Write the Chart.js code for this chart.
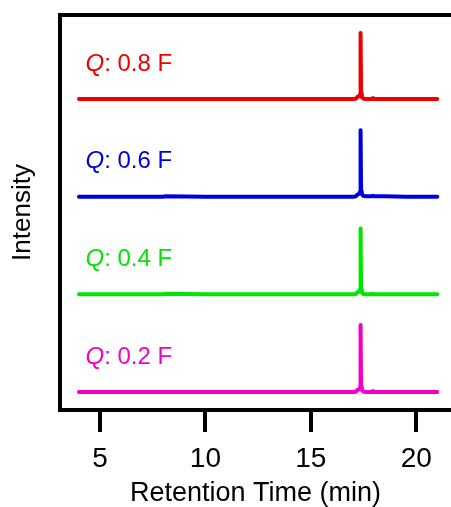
<!DOCTYPE html>
<html>
<head>
<meta charset="utf-8">
<script src="https://cdn.jsdelivr.net/npm/chart.js@4.4.1/dist/chart.umd.min.js"></script>
<style>
  html, body { margin: 0; padding: 0; background: #fff; overflow: hidden; }
  #wrap { width: 451px; height: 507px; }
</style>
</head>
<body>
<div id="wrap"><canvas id="myChart" width="451" height="507"></canvas></div>
<script>
// retention time (min) shared by all traces
var retentionTime = [4.0, 6.0, 8.0, 8.1, 10.0, 12.0, 14.0, 16.0, 17.05, 17.15, 17.2, 17.25, 17.3, 17.335, 17.36, 17.385, 17.42, 17.48, 17.6, 17.9, 17.95, 18.0, 18.5, 19.5, 21.0];

// intensities (normalised), one array per Q
var intensityQ08 = [0, 0, 0, 0, 0, 0, 0, 0, 0, 0.005, 0.02, 0.025, 0.03, 0.05, 0.676, 0.05, 0.02, 0.005, 0, 0, 0.01, 0, 0, 0, 0];
var intensityQ06 = [0, 0, 0, 0.005, 0, 0, 0, 0, 0, 0.005, 0.02, 0.025, 0.03, 0.05, 0.68, 0.05, 0.025, 0.01, 0.005, 0.005, 0.01, 0.005, 0.005, 0, 0];
var intensityQ04 = [0, 0, 0, 0.005, 0, 0, 0, 0, 0, 0.005, 0.02, 0.025, 0.03, 0.05, 0.675, 0.05, 0.02, 0.005, 0, 0, 0.005, 0, 0, 0, 0];
var intensityQ02 = [0, 0, 0, 0, 0, 0, 0, 0, 0, 0.005, 0.02, 0.025, 0.03, 0.05, 0.686, 0.05, 0.02, 0.005, 0, 0, 0.01, 0, 0, 0, 0];

var seriesLabels = ['0.8 F', '0.6 F', '0.4 F', '0.2 F'];
var seriesValues = [intensityQ08, intensityQ06, intensityQ04, intensityQ02];
var seriesOffsets = [3, 2, 1, 0];
var seriesColors = ['#ee0000', '#0000e0', '#00e600', '#f000c8'];
var xTickValues = [5, 10, 15, 20];

var datasets = [];
var $each = function (arr, fn) { for (var i = 0; i < arr.length; i++) fn(i, arr[i]); };
$each(seriesValues, function (key, values) {
    var pts = [];
    $each(values, function (i, v) {
        pts.push({ x: retentionTime[i], y: v + seriesOffsets[key] });
    });
    datasets.push({
        label: 'Q: ' + seriesLabels[key],
        data: pts,
        borderColor: seriesColors[key],
        borderWidth: 4,
        borderJoinStyle: 'round',
        borderCapStyle: 'round',
        pointRadius: 0,
        tension: 0,
        fill: false
    });
});

// frame: top, left, bottom (right side falls outside the picture)
var framePlugin = {
    id: 'frame',
    afterDraw: function (chart) {
        var a = chart.chartArea, ctx = chart.ctx;
        ctx.save();
        ctx.strokeStyle = '#000';
        ctx.lineWidth = 4;
        ctx.beginPath();
        ctx.moveTo(chart.width + 5, a.top);
        ctx.lineTo(a.left, a.top);
        ctx.lineTo(a.left, a.bottom);
        ctx.lineTo(chart.width + 5, a.bottom);
        ctx.stroke();
        ctx.restore();
    }
};

// "Q: 0.8 F" style labels above each trace
var labelPlugin = {
    id: 'traceLabels',
    afterDatasetsDraw: function (chart) {
        var ctx = chart.ctx;
        var xs = chart.scales.x, ys = chart.scales.y;
        ctx.save();
        ctx.textBaseline = 'alphabetic';
        ctx.textAlign = 'left';
        $each(seriesLabels, function (key, lab) {
            var px = xs.getPixelForValue(4.31);
            var py = ys.getPixelForValue(seriesOffsets[key] + 0.29);
            ctx.fillStyle = seriesColors[key];
            ctx.font = 'italic 24px "Liberation Sans", Arial, sans-serif';
            ctx.fillText('Q', px, py);
            var w = ctx.measureText('Q').width;
            ctx.font = '24px "Liberation Sans", Arial, sans-serif';
            ctx.fillText(': ' + lab, px + w, py);
        });
        ctx.restore();
    }
};

var ctx = document.getElementById('myChart').getContext('2d');
var myChart = new Chart(ctx, {
    type: 'line',
    data: { datasets: datasets },
    plugins: [framePlugin, labelPlugin],
    options: {
        responsive: false,
        animation: false,
        devicePixelRatio: 1,
        layout: { padding: { top: 15, right: 0, bottom: 0, left: 0 } },
        plugins: { legend: { display: false }, tooltip: { enabled: false } },
        scales: {
            x: {
                type: 'linear',
                min: 3.1,
                max: 21.65,
                afterBuildTicks: function (s) {
                    s.ticks = xTickValues.map(function (v) { return { value: v }; });
                },
                afterFit: function (s) { s.height = 97; },
                border: { display: false },
                grid: {
                    drawOnChartArea: false,
                    drawTicks: true,
                    tickLength: 22,
                    lineWidth: 4,
                    color: '#000'
                },
                ticks: {
                    color: '#000',
                    padding: 10,
                    maxRotation: 0,
                    font: { family: '"Liberation Sans", Arial, sans-serif', size: 28 }
                },
                title: {
                    display: true,
                    text: 'Retention Time (min)',
                    color: '#000',
                    padding: { top: 0, bottom: 0 },
                    font: { family: '"Liberation Sans", Arial, sans-serif', size: 27, lineHeight: 1 }
                }
            },
            y: {
                type: 'linear',
                min: -0.184,
                max: 3.86,
                afterFit: function (s) { s.width = 60; },
                border: { display: false },
                grid: { display: false },
                ticks: { display: false },
                title: {
                    display: true,
                    text: 'Intensity',
                    color: '#000',
                    padding: { top: 7, bottom: 0 },
                    font: { family: '"Liberation Sans", Arial, sans-serif', size: 26 }
                }
            }
        }
    }
});
</script>
</body>
</html>
